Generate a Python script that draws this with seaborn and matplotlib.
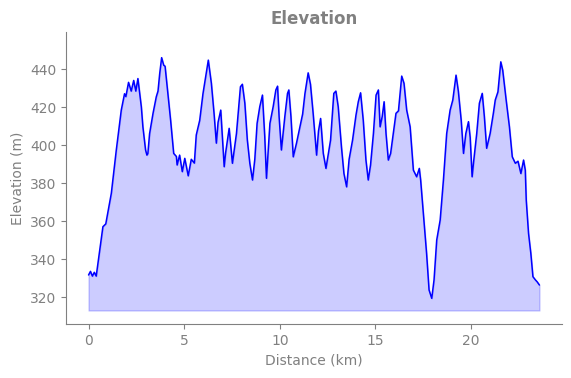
import numpy as np
import pandas as pd
import matplotlib
matplotlib.use("Agg")
import matplotlib.pyplot as plt
import seaborn as sns

# distance (km) and elevation (m)
distance = [0.0, 0.1, 0.2, 0.3, 0.4, 0.49, 0.75, 0.9, 1.19, 1.45, 1.71, 1.88, 1.95,
            2.09, 2.23, 2.36, 2.47, 2.58, 2.76, 2.84, 2.98, 3.05, 3.1, 3.19, 3.37,
            3.54, 3.63, 3.72, 3.82, 3.93, 4.0, 4.15, 4.29, 4.45, 4.59, 4.63, 4.76,
            4.9, 5.03, 5.21, 5.37, 5.53, 5.63, 5.81, 5.98, 6.26, 6.42, 6.56, 6.68,
            6.77, 6.91, 7.09, 7.16, 7.35, 7.52, 7.73, 7.94, 8.04, 8.17, 8.3, 8.43,
            8.57, 8.69, 8.81, 8.95, 9.09, 9.21, 9.3, 9.48, 9.65, 9.79, 9.88, 9.96,
            10.08, 10.26, 10.4, 10.47, 10.58, 10.7, 10.87, 11.05, 11.19, 11.31,
            11.48, 11.6, 11.74, 11.92, 12.02, 12.13, 12.27, 12.41, 12.65, 12.82,
            12.93, 13.05, 13.22, 13.35, 13.49, 13.62, 13.8, 13.98, 14.1, 14.22,
            14.36, 14.5, 14.62, 14.74, 14.89, 15.03, 15.15, 15.24, 15.35, 15.45,
            15.55, 15.67, 15.79, 15.93, 16.07, 16.2, 16.37, 16.49, 16.63, 16.81,
            16.98, 17.15, 17.29, 17.36, 17.5, 17.67, 17.8, 17.94, 18.06, 18.2,
            18.38, 18.55, 18.72, 18.9, 19.04, 19.21, 19.33, 19.48, 19.6, 19.72,
            19.86, 19.95, 20.05, 20.12, 20.29, 20.43, 20.58, 20.69, 20.81, 20.99,
            21.16, 21.26, 21.4, 21.55, 21.65, 21.83, 22.0, 22.15, 22.31, 22.45,
            22.6, 22.74, 22.83, 22.88, 23.0, 23.12, 23.23, 23.36, 23.45, 23.57]
elevation = [331.6, 333.5, 331.0, 333.0, 331.0, 337.7, 357.0, 358.5, 374.6, 397.4,
             418.4, 427.0, 425.5, 433.0, 428.4, 434.0, 428.4, 435.0, 420.0, 409.6,
             397.4, 394.7, 395.5, 406.0, 416.7, 425.4, 428.4, 437.7, 446.0, 442.0,
             441.5, 427.0, 413.0, 395.6, 394.0, 389.5, 394.7, 386.0, 393.0, 383.8,
             392.5, 390.5, 405.3, 413.0, 427.0, 444.7, 432.5, 416.7, 401.0, 412.0,
             418.4, 388.6, 395.6, 408.8, 390.4, 406.0, 430.7, 432.0, 422.0, 402.6,
             390.4, 381.6, 392.5, 411.4, 420.2, 426.3, 404.6, 382.5, 411.4, 420.2,
             429.0, 431.0, 415.0, 397.4, 415.0, 427.2, 429.0, 415.0, 393.8, 401.0,
             409.6, 416.3, 427.0, 438.0, 432.0, 416.7, 394.7, 407.4, 414.0, 395.6,
             387.7, 402.6, 427.2, 428.4, 420.2, 399.0, 385.0, 378.0, 392.5, 402.6,
             415.8, 422.8, 427.5, 413.0, 392.1, 381.6, 389.5, 406.0, 426.3, 429.0,
             409.6, 415.0, 422.8, 406.0, 392.1, 395.6, 406.0, 416.7, 418.0, 436.3,
             432.5, 418.4, 409.6, 386.8, 383.3, 387.7, 381.6, 364.0, 343.0, 323.7,
             319.3, 329.0, 350.0, 360.5, 381.6, 406.0, 418.4, 423.7, 436.8, 428.4,
             413.0, 395.6, 406.0, 412.3, 404.0, 383.3, 390.4, 406.0, 422.0, 427.2,
             415.0, 398.3, 406.0, 416.7, 423.7, 428.0, 443.8, 439.4, 423.7, 409.6,
             393.8, 390.4, 391.5, 385.0, 392.1, 386.8, 371.0, 353.5, 343.0, 330.7,
             329.0, 328.0, 326.3]

df = pd.DataFrame({"Distance (km)": distance, "Elevation (m)": elevation})

sns.set_style("ticks")
grey = "#808080"
plt.rcParams["font.family"] = ["DejaVu Sans"]

fig, ax = plt.subplots(figsize=(5.71, 3.78), dpi=100)
plt.subplots_adjust(left=0.1156, right=0.9842, top=0.9153, bottom=0.1429)

base = min(elevation) * 0.98
ax.fill_between(df["Distance (km)"], df["Elevation (m)"], base, color="blue", alpha=0.2)
sns.lineplot(ax=ax, data=df, x="Distance (km)", y="Elevation (m)", color="blue", linewidth=1.1)

ax.set_ylim(305.8, 459.5)
ax.set_xticks([0, 5, 10, 15, 20])
ax.set_yticks([320, 340, 360, 380, 400, 420, 440])
ax.set_title("Elevation", fontsize=12, fontweight="bold", color=grey)
ax.set_xlabel("Distance (km)", color=grey, fontsize=10)
ax.set_ylabel("Elevation (m)", color=grey, fontsize=10)
ax.tick_params(colors=grey, labelsize=10)
for side in ["left", "bottom"]:
    ax.spines[side].set_color(grey)
sns.despine(ax=ax)

plt.savefig("out.png", dpi=100)
